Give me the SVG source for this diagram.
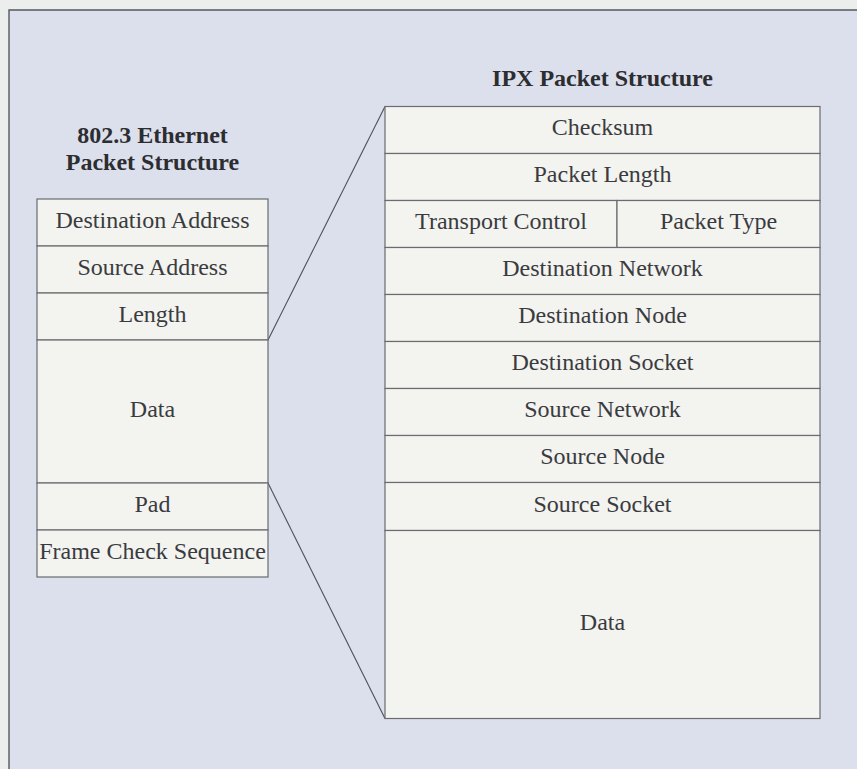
<svg xmlns="http://www.w3.org/2000/svg" width="857" height="769" viewBox="0 0 857 769">
  <style>
    .page { fill: #eceeee; }
    .panel { fill: #dcdfec; }
    .frame { fill: none; stroke: #55585e; stroke-width: 1.4; }
    .cell { fill: #f3f3f0; stroke: #6a6c70; stroke-width: 1.2; }
    .rule { stroke: #6f7074; stroke-width: 1.2; }
    .link { stroke: #4f5156; stroke-width: 1.1; fill: none; }
    .label { font-family: "Liberation Serif", "Times New Roman", serif; font-size: 24px; fill: #3a3b3e; text-anchor: middle; }
    .title { font-family: "Liberation Serif", "Times New Roman", serif; font-size: 24px; font-weight: bold; fill: #2c2d30; text-anchor: middle; }
  </style>

  <!-- page and framed panel -->
  <rect class="page" x="0" y="0" width="857" height="769"/>
  <rect class="panel" x="9" y="10" width="848" height="759"/>
  <path class="frame" d="M9,769 V10 H857"/>

  <!-- headings -->
  <text class="title" x="152.5" y="143">802.3 Ethernet</text>
  <text class="title" x="152.5" y="170">Packet Structure</text>
  <text class="title" x="602.5" y="86">IPX Packet Structure</text>

  <!-- connectors from the Ethernet data field to the IPX packet -->
  <g id="connectors">
    <line class="link" x1="268" y1="340" x2="385" y2="106.5"/>
    <line class="link" x1="268" y1="483" x2="385" y2="718.5"/>
  </g>

  <!-- 802.3 Ethernet frame fields -->
  <g id="eth-dest">
    <rect class="cell" x="37" y="199" width="231" height="47"/>
    <text class="label" x="152.5" y="228">Destination Address</text>
  </g>
  <g id="eth-src">
    <rect class="cell" x="37" y="246" width="231" height="47"/>
    <text class="label" x="152.5" y="275">Source Address</text>
  </g>
  <g id="eth-len">
    <rect class="cell" x="37" y="293" width="231" height="47"/>
    <text class="label" x="152.5" y="322">Length</text>
  </g>
  <g id="eth-data">
    <rect class="cell" x="37" y="340" width="231" height="143"/>
    <text class="label" x="152.5" y="417">Data</text>
  </g>
  <g id="eth-pad">
    <rect class="cell" x="37" y="483" width="231" height="47"/>
    <text class="label" x="152.5" y="512">Pad</text>
  </g>
  <g id="eth-fcs">
    <rect class="cell" x="37" y="530" width="231" height="47"/>
    <text class="label" x="152.5" y="559">Frame Check Sequence</text>
  </g>

  <!-- IPX packet fields -->
  <g id="ipx-checksum">
    <rect class="cell" x="385" y="106.5" width="435" height="47"/>
    <text class="label" x="602.5" y="135">Checksum</text>
  </g>
  <g id="ipx-length">
    <rect class="cell" x="385" y="153.5" width="435" height="47"/>
    <text class="label" x="602.5" y="182">Packet Length</text>
  </g>
  <g id="ipx-transport">
    <rect class="cell" x="385" y="200.5" width="232" height="47"/>
    <text class="label" x="501" y="229">Transport Control</text>
  </g>
  <g id="ipx-type">
    <rect class="cell" x="617" y="200.5" width="203" height="47"/>
    <text class="label" x="718.5" y="229">Packet Type</text>
  </g>
  <g id="ipx-dest-net">
    <rect class="cell" x="385" y="247.5" width="435" height="47"/>
    <text class="label" x="602.5" y="276">Destination Network</text>
  </g>
  <g id="ipx-dest-node">
    <rect class="cell" x="385" y="294.5" width="435" height="47"/>
    <text class="label" x="602.5" y="323">Destination Node</text>
  </g>
  <g id="ipx-dest-socket">
    <rect class="cell" x="385" y="341.5" width="435" height="47"/>
    <text class="label" x="602.5" y="370">Destination Socket</text>
  </g>
  <g id="ipx-src-net">
    <rect class="cell" x="385" y="388.5" width="435" height="47"/>
    <text class="label" x="602.5" y="417">Source Network</text>
  </g>
  <g id="ipx-src-node">
    <rect class="cell" x="385" y="435.5" width="435" height="47"/>
    <text class="label" x="602.5" y="464">Source Node</text>
  </g>
  <g id="ipx-src-socket">
    <rect class="cell" x="385" y="482.5" width="435" height="48"/>
    <text class="label" x="602.5" y="512">Source Socket</text>
  </g>
  <g id="ipx-data">
    <rect class="cell" x="385" y="530.5" width="435" height="188"/>
    <text class="label" x="602.5" y="630">Data</text>
  </g>
</svg>
